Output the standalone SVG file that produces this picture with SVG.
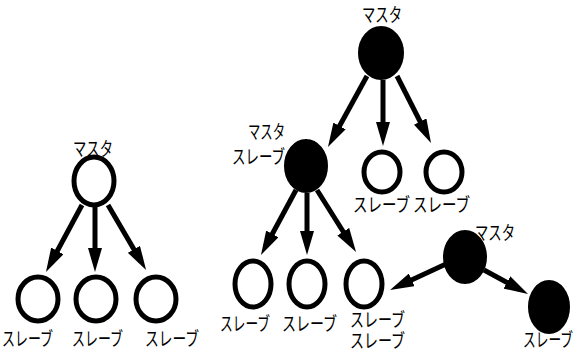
<svg xmlns="http://www.w3.org/2000/svg" width="578" height="354" viewBox="0 0 578 354">
<style>
text{font-family:"Noto Sans CJK JP","Noto Sans CJK SC",sans-serif;font-size:19px;fill:#000}
.open{fill:#fff;stroke:#000;stroke-width:5}
.full{fill:#000;stroke:#000;stroke-width:2}
.edge{stroke:#000;stroke-width:5;fill:none;marker-end:url(#ah)}
</style>
<defs>
<marker id="ah" viewBox="0 0 24 14" refX="14" refY="7" markerWidth="24" markerHeight="14" markerUnits="userSpaceOnUse" orient="auto">
<path d="M0,0 L24,7 L0,14 z" fill="#000"/>
</marker>
</defs>
<rect width="578" height="354" fill="#fff"/>
<g id="edges">
<line class="edge" x1="82" y1="205" x2="50.7" y2="263.2"/>
<line class="edge" x1="95" y1="207" x2="95" y2="262"/>
<line class="edge" x1="108" y1="205" x2="141" y2="261.4"/>
<line class="edge" x1="367" y1="76" x2="332.8" y2="138.2"/>
<line class="edge" x1="383" y1="80" x2="383" y2="136"/>
<line class="edge" x1="397" y1="76" x2="426.5" y2="134.1"/>
<line class="edge" x1="296" y1="190" x2="265.7" y2="246.2"/>
<line class="edge" x1="307" y1="193" x2="307" y2="245"/>
<line class="edge" x1="317" y1="190" x2="350.7" y2="243.5"/>
<line class="edge" x1="446" y1="264" x2="399.1" y2="285.8"/>
<line class="edge" x1="484" y1="270" x2="519.2" y2="289.2"/>
</g>
<g id="left-master">
<ellipse class="open" cx="94" cy="181" rx="20" ry="24"/>
<text x="73" y="156" textLength="40" lengthAdjust="spacingAndGlyphs">マスタ</text>
</g>
<g id="left-slave1">
<ellipse class="open" cx="38" cy="299" rx="20" ry="22"/>
<text x="2" y="346" textLength="51" lengthAdjust="spacingAndGlyphs">スレーブ</text>
</g>
<g id="left-slave2">
<ellipse class="open" cx="96" cy="299" rx="20" ry="22"/>
<text x="72" y="346" textLength="51" lengthAdjust="spacingAndGlyphs">スレーブ</text>
</g>
<g id="left-slave3">
<ellipse class="open" cx="156" cy="299" rx="20" ry="22"/>
<text x="145" y="346" textLength="54" lengthAdjust="spacingAndGlyphs">スレーブ</text>
</g>
<g id="top-master">
<ellipse class="full" cx="381" cy="53" rx="22" ry="26"/>
<text x="362" y="22" textLength="40" lengthAdjust="spacingAndGlyphs">マスタ</text>
</g>
<g id="master-slave">
<ellipse class="full" cx="306" cy="166" rx="21" ry="26"/>
<text x="248" y="139" textLength="37" lengthAdjust="spacingAndGlyphs">マスタ</text>
<text x="232" y="164" textLength="53" lengthAdjust="spacingAndGlyphs">スレーブ</text>
</g>
<g id="top-slave1">
<ellipse class="open" cx="382" cy="172" rx="18" ry="20"/>
<text x="353" y="212" textLength="57" lengthAdjust="spacingAndGlyphs">スレーブ</text>
</g>
<g id="top-slave2">
<ellipse class="open" cx="444" cy="172" rx="18" ry="20"/>
<text x="413" y="212" textLength="57" lengthAdjust="spacingAndGlyphs">スレーブ</text>
</g>
<g id="mid-slave1">
<ellipse class="open" cx="253" cy="284" rx="18" ry="23"/>
<text x="220" y="331" textLength="50" lengthAdjust="spacingAndGlyphs">スレーブ</text>
</g>
<g id="mid-slave2">
<ellipse class="open" cx="307" cy="284" rx="18" ry="23"/>
<text x="282" y="331" textLength="55" lengthAdjust="spacingAndGlyphs">スレーブ</text>
</g>
<g id="mid-slave3">
<ellipse class="open" cx="364" cy="284" rx="18" ry="23"/>
<text x="350" y="327" textLength="55" lengthAdjust="spacingAndGlyphs">スレーブ</text>
<text x="350" y="348" textLength="55" lengthAdjust="spacingAndGlyphs">スレーブ</text>
</g>
<g id="right-master">
<ellipse class="full" cx="465" cy="257" rx="21" ry="26"/>
<text x="475" y="240" textLength="40" lengthAdjust="spacingAndGlyphs">マスタ</text>
</g>
<g id="right-slave">
<ellipse class="full" cx="549" cy="307" rx="20" ry="26"/>
<text x="523" y="347" textLength="50" lengthAdjust="spacingAndGlyphs">スレーブ</text>
</g>
</svg>
